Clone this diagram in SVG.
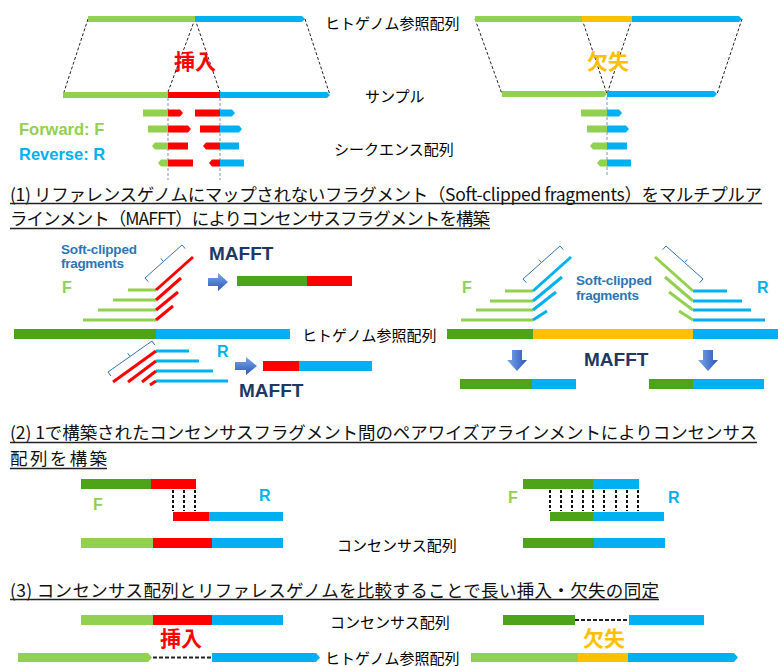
<svg xmlns="http://www.w3.org/2000/svg" width="778" height="667" viewBox="0 0 778 667">
<defs>
<linearGradient id="ag" x1="0" y1="0" x2="0" y2="1"><stop offset="0" stop-color="#7BA7EC"/><stop offset="1" stop-color="#2B56B8"/></linearGradient>
<linearGradient id="agv" x1="0" y1="0" x2="1" y2="0"><stop offset="0" stop-color="#7BA7EC"/><stop offset="1" stop-color="#2B56B8"/></linearGradient>
<style>
.jp{font-family:"Noto Sans CJK JP","Noto Sans",sans-serif;font-size:15px;fill:#000}
.ttl{font-family:"Noto Sans CJK JP","Noto Sans",sans-serif;font-size:17.5px;fill:#111}
.ul{stroke:#222;stroke-width:1.3}
.lb{font-family:"Liberation Sans",Arial,sans-serif;font-weight:bold}
.big{font-family:"Noto Sans CJK JP",sans-serif;font-weight:bold;font-size:21px}
.g{fill:#92D050}.dg{fill:#4EA418}.b{fill:#00B0F0}.r{fill:#FF0000}.o{fill:#FFC000}
.dash{stroke:#222;stroke-width:1;stroke-dasharray:3,2;fill:none}
.vd{stroke:#7F93B0;stroke-width:1;stroke-dasharray:3,2;fill:none}
.bd{stroke:#111;stroke-width:2;stroke-dasharray:3,2;fill:none}
.hd{stroke:#222;stroke-width:2;stroke-dasharray:4,2;fill:none}
.gl{stroke:#92D050;stroke-width:3;fill:none}
.bl{stroke:#00B0F0;stroke-width:3;fill:none}
.rl{stroke:#FF0000;stroke-width:3;fill:none}
.br{stroke:#2E75B6;stroke-width:1;fill:none}
.mafft{fill:#203864;font-size:19px}
.sc{fill:#2E75B6;font-size:13.5px}
</style>
</defs>
<rect width="778" height="667" fill="#fff"/>

<!-- connectors -->
<g id="connectors">
<line class="dash" x1="88" y1="19" x2="63" y2="95"/>
<line class="dash" x1="195" y1="19" x2="168" y2="92"/>
<line class="dash" x1="195" y1="19" x2="220" y2="92"/>
<line class="dash" x1="305" y1="19" x2="330" y2="95"/>
<line class="dash" x1="475" y1="19" x2="502" y2="94"/>
<line class="dash" x1="582" y1="19" x2="607" y2="94"/>
<line class="dash" x1="632" y1="19" x2="607" y2="94"/>
<line class="dash" x1="742" y1="19" x2="717" y2="94"/>
<line class="vd" x1="168" y1="98" x2="168" y2="180"/>
<line class="vd" x1="220" y1="98" x2="220" y2="180"/>
<line class="vd" x1="607" y1="97" x2="607" y2="175"/>
<polygon points="208,278 218,278 218,273 228,282 218,291 218,286 208,286" fill="url(#ag)"/>
<polygon points="235,362 246,362 246,357 257,366 246,375 246,370 235,370" fill="url(#ag)"/>
<polygon points="512,350 522,350 522,360 527,360 517,371 507,360 512,360" fill="url(#agv)"/>
<polygon points="703,350 713,350 713,360 718,360 708,371 698,360 703,360" fill="url(#agv)"/>
<g class="bd"><line x1="173" y1="490" x2="173" y2="511"/><line x1="184" y1="490" x2="184" y2="511"/><line x1="195" y1="490" x2="195" y2="511"/></g>
<g class="bd"><line x1="550" y1="490" x2="550" y2="511"/><line x1="561" y1="490" x2="561" y2="511"/><line x1="572" y1="490" x2="572" y2="511"/><line x1="583" y1="490" x2="583" y2="511"/><line x1="593" y1="490" x2="593" y2="511"/><line x1="604" y1="490" x2="604" y2="511"/><line x1="616" y1="490" x2="616" y2="511"/><line x1="627" y1="490" x2="627" y2="511"/><line x1="638" y1="490" x2="638" y2="511"/></g>
<line class="hd" x1="153" y1="657.5" x2="212" y2="657.5"/>
<line class="hd" x1="575" y1="620" x2="629" y2="620"/>
</g>

<!-- top: insertion -->
<g id="ins-top">
<rect class="g" x="88" y="16" width="107" height="6"/>
<path class="b" d="M195 16H302L305 19L302 22H195Z"/>
<rect class="g" x="63" y="92" width="105" height="6"/>
<rect class="r" x="168" y="92" width="52" height="6"/>
<path class="b" d="M220 92H327L330 95L327 98H220Z"/>
<text class="big" x="195" y="69" text-anchor="middle" fill="#FF0000">挿入</text>
<rect class="g" x="143" y="109.5" width="25" height="7"/><path class="r" d="M168 109.5H180L183 113L180 116.5H168Z"/>
<rect class="r" x="195" y="109.5" width="25" height="7"/><path class="b" d="M220 109.5H232L235 113L232 116.5H220Z"/>
<rect class="g" x="148" y="125.5" width="20" height="7"/><path class="r" d="M168 125.5H188L191 129L188 132.5H168Z"/>
<rect class="r" x="200" y="125.5" width="20" height="7"/><path class="b" d="M220 125.5H239L242 129L239 132.5H220Z"/>
<path class="g" d="M168 142.5H155L152 146L155 149.5H168Z"/><rect class="r" x="168" y="142.5" width="20" height="7"/>
<path class="r" d="M220 142.5H206L203 146L206 149.5H220Z"/><rect class="b" x="220" y="142.5" width="19" height="7"/>
<path class="g" d="M168 159.5H161L158 163L161 166.5H168Z"/><rect class="r" x="168" y="159.5" width="25" height="7"/>
<path class="r" d="M220 159.5H212L209 163L212 166.5H220Z"/><rect class="b" x="220" y="159.5" width="24" height="7"/>
</g>

<g id="legend">
<text class="lb" x="19" y="135" font-size="16.5" fill="#92D050">Forward: F</text>
<text class="lb" x="19" y="160" font-size="16.5" fill="#00B0F0">Reverse: R</text>
</g>

<g id="labels-top">
<text class="jp" x="325" y="29">ヒトゲノム参照配列</text>
<text class="jp" x="365" y="102">サンプル</text>
<text class="jp" x="334" y="155">シークエンス配列</text>
</g>

<!-- top: deletion -->
<g id="del-top">
<rect class="g" x="475" y="16" width="107" height="6"/>
<rect class="o" x="582" y="16" width="50" height="6"/>
<path class="b" d="M632 16H739L742 19L739 22H632Z"/>
<path class="g" d="M502 91H604L607 94L604 97H502Z"/>
<path class="b" d="M607 91H714L717 94L714 97H607Z"/>
<text class="big" x="608" y="69" text-anchor="middle" fill="#FFC000">欠失</text>
<rect class="g" x="581" y="109.5" width="26" height="7"/><path class="b" d="M607 109.5H619L622 113L619 116.5H607Z"/>
<rect class="g" x="587" y="125.5" width="20" height="7"/><path class="b" d="M607 125.5H626L629 129L626 132.5H607Z"/>
<path class="g" d="M607 142.5H593L590 146L593 149.5H607Z"/><rect class="b" x="607" y="142.5" width="20" height="7"/>
<path class="g" d="M607 159.5H600L597 163L600 166.5H607Z"/><rect class="b" x="607" y="159.5" width="24" height="7"/>
</g>

<!-- section 1 -->
<g id="title1">
<text class="ttl" x="10" y="201" textLength="752">(1) リファレンスゲノムにマップされないフラグメント（Soft-clipped fragments）をマルチプルア</text>
<line class="ul" x1="10" y1="203.5" x2="762" y2="203.5"/>
<text class="ttl" x="10" y="225" textLength="480">ラインメント（MAFFT）によりコンセンサスフラグメントを構築</text>
<line class="ul" x1="10" y1="228.5" x2="490" y2="228.5"/>
</g>

<g id="s1-left-F">
<text class="lb sc" x="61" y="254" textLength="76">Soft-clipped</text>
<text class="lb sc" x="61" y="268" textLength="63">fragments</text>
<text class="lb" x="62" y="293" font-size="16" fill="#92D050">F</text>
<line class="gl" x1="128" y1="290" x2="156" y2="290"/>
<line class="gl" x1="113" y1="300" x2="156" y2="300"/>
<line class="gl" x1="98" y1="310" x2="156" y2="310"/>
<line class="gl" x1="83" y1="320" x2="156" y2="320"/>
<line class="rl" x1="156" y1="290" x2="193" y2="257"/>
<line class="rl" x1="156" y1="300" x2="181" y2="278"/>
<line class="rl" x1="156" y1="310" x2="178" y2="292"/>
<line class="rl" x1="156" y1="320" x2="173" y2="306"/>
<path class="br" d="M148.3 281.7L145 278L163.5 261.5L160.8 258.5M163.5 261.5L182 245L185.3 248.7"/>
<text class="lb mafft" x="209" y="260">MAFFT</text>
<rect class="dg" x="237" y="276" width="70" height="10"/>
<rect class="r" x="307" y="276" width="45" height="10"/>
</g>

<g id="s1-ref">
<rect class="dg" x="14" y="329" width="142" height="10"/>
<rect class="b" x="156" y="329" width="134" height="10"/>
<text class="jp" x="302" y="341">ヒトゲノム参照配列</text>
<rect class="dg" x="447" y="329" width="86" height="10"/>
<rect class="o" x="533" y="329" width="160" height="10"/>
<rect class="b" x="693" y="329" width="85" height="10"/>
</g>

<g id="s1-left-R">
<line class="bl" x1="156" y1="351" x2="189" y2="351"/>
<line class="bl" x1="156" y1="361" x2="199" y2="361"/>
<line class="bl" x1="156" y1="371" x2="213" y2="371"/>
<line class="bl" x1="156" y1="381" x2="228" y2="381"/>
<line class="rl" x1="156" y1="351" x2="113" y2="382"/>
<line class="rl" x1="156" y1="361" x2="128" y2="382"/>
<line class="rl" x1="156" y1="371" x2="142" y2="382"/>
<line class="rl" x1="156" y1="381" x2="150" y2="385"/>
<path class="br" d="M110.9 376.1L108 372L130 356.5L127.7 353.2M130 356.5L152 341L154.9 345.1"/>
<text class="lb" x="217" y="357" font-size="16" fill="#00B0F0">R</text>
<rect class="r" x="263" y="361" width="36" height="10"/>
<rect class="b" x="299" y="361" width="73" height="10"/>
<text class="lb mafft" x="239" y="397">MAFFT</text>
</g>

<g id="s1-right">
<text class="lb" x="462" y="293" font-size="16" fill="#92D050">F</text>
<line class="gl" x1="505" y1="291" x2="533" y2="291"/>
<line class="gl" x1="490" y1="301" x2="533" y2="301"/>
<line class="gl" x1="476" y1="310" x2="533" y2="310"/>
<line class="gl" x1="461" y1="320" x2="533" y2="320"/>
<line class="bl" x1="533" y1="291" x2="571" y2="257"/>
<line class="bl" x1="533" y1="301" x2="562" y2="277"/>
<line class="bl" x1="533" y1="310" x2="556" y2="292"/>
<line class="bl" x1="533" y1="320" x2="547" y2="311"/>
<path class="br" d="M526.3 282.7L523 279L541.5 262.5L538.8 259.5M541.5 262.5L560 246L563.3 249.7"/>
<text class="lb sc" x="576" y="285" textLength="76">Soft-clipped</text>
<text class="lb sc" x="576" y="300" textLength="63">fragments</text>
<line class="bl" x1="693" y1="291" x2="727" y2="291"/>
<line class="bl" x1="693" y1="301" x2="742" y2="301"/>
<line class="bl" x1="693" y1="310" x2="751" y2="310"/>
<line class="bl" x1="693" y1="320" x2="765" y2="320"/>
<line class="gl" x1="693" y1="291" x2="655" y2="257"/>
<line class="gl" x1="693" y1="301" x2="665" y2="277"/>
<line class="gl" x1="693" y1="310" x2="669" y2="292"/>
<line class="gl" x1="693" y1="320" x2="679" y2="311"/>
<path class="br" d="M699.7 282.7L703 279L684.5 262.5L687.2 259.5M684.5 262.5L666 246L662.7 249.7"/>
<text class="lb" x="757" y="293" font-size="16" fill="#00B0F0">R</text>
<text class="lb mafft" x="584" y="366">MAFFT</text>
<rect class="dg" x="460" y="379" width="72" height="10"/>
<rect class="b" x="532" y="379" width="44" height="10"/>
<rect class="dg" x="649" y="379" width="44" height="10"/>
<rect class="b" x="693" y="379" width="71" height="10"/>
</g>

<!-- section 2 -->
<g id="title2">
<text class="ttl" x="10" y="439" textLength="747">(2) 1で構築されたコンセンサスフラグメント間のペアワイズアラインメントによりコンセンサス</text>
<line class="ul" x1="10" y1="442.5" x2="757" y2="442.5"/>
<text class="ttl" x="10" y="465" textLength="97">配列を構築</text>
<line class="ul" x1="10" y1="468.5" x2="107" y2="468.5"/>
</g>

<g id="s2-left">
<rect class="dg" x="81" y="479" width="70" height="10"/>
<rect class="r" x="151" y="479" width="45" height="10"/>
<rect class="r" x="173" y="512" width="36" height="9"/>
<rect class="b" x="209" y="512" width="74" height="9"/>
<text class="lb" x="93" y="510" font-size="16" fill="#92D050">F</text>
<text class="lb" x="259" y="501" font-size="16" fill="#00B0F0">R</text>
<rect class="g" x="81" y="538" width="72" height="10"/>
<rect class="r" x="153" y="538" width="59" height="10"/>
<rect class="b" x="212" y="538" width="71" height="10"/>
<text class="jp" x="337" y="551">コンセンサス配列</text>
</g>

<g id="s2-right">
<rect class="dg" x="523" y="479" width="70" height="10"/>
<rect class="b" x="593" y="479" width="46" height="10"/>
<rect class="dg" x="550" y="512" width="43" height="9"/>
<rect class="b" x="593" y="512" width="71" height="9"/>
<text class="lb" x="508" y="503" font-size="16" fill="#92D050">F</text>
<text class="lb" x="668" y="503" font-size="16" fill="#00B0F0">R</text>
<rect class="dg" x="523" y="538" width="71" height="10"/>
<rect class="b" x="594" y="538" width="71" height="10"/>
</g>

<!-- section 3 -->
<g id="title3">
<text class="ttl" x="10" y="597" textLength="649">(3) コンセンサス配列とリファレスゲノムを比較することで長い挿入・欠失の同定</text>
<line class="ul" x1="10" y1="599.5" x2="659" y2="599.5"/>
</g>

<g id="s3-left">
<rect class="g" x="81" y="615" width="72" height="10"/>
<rect class="r" x="153" y="615" width="59" height="10"/>
<rect class="b" x="212" y="615" width="71" height="10"/>
<text class="big" x="181" y="646" text-anchor="middle" fill="#FF0000">挿入</text>
<path class="g" d="M18 653H148L152 657.5L148 662H18Z"/>
<path class="b" d="M212 653H316L320 657.5L316 662H212Z"/>
<text class="jp" x="330" y="628">コンセンサス配列</text>
<text class="jp" x="325" y="664">ヒトゲノム参照配列</text>
</g>

<g id="s3-right">
<rect class="dg" x="503" y="615" width="72" height="10"/>
<rect class="b" x="629" y="615" width="75" height="10"/>
<text class="big" x="604" y="646" text-anchor="middle" fill="#FFC000">欠失</text>
<rect class="g" x="471" y="653" width="107" height="9"/>
<rect class="o" x="578" y="653" width="50" height="9"/>
<path class="b" d="M628 653H734L738 657.5L734 662H628Z"/>
</g>
</svg>
